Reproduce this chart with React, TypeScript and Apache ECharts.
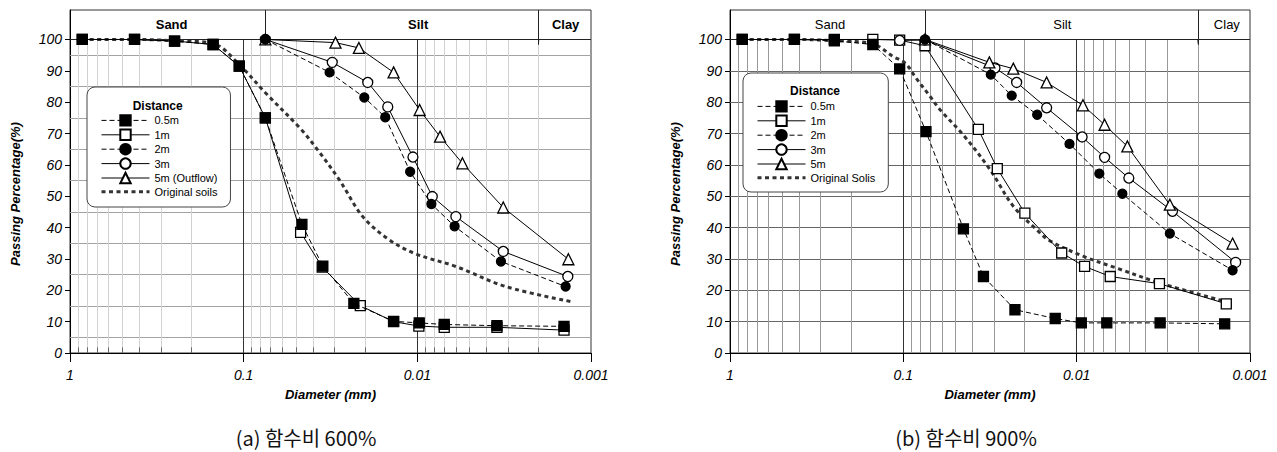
import React, { useEffect, useRef } from 'react';
import * as echarts from 'echarts';

type Pt = [number, number];

// ---------- DATA ----------
const namesA = ['0.5m', '1m', '2m', '3m', '5m (Outflow)', 'Original soils'];
const namesB = ['0.5m', '1m', '2m', '3m', '5m', 'Original Solis'];

// (a) water content 600%
const a05: Pt[] = [[0.85, 100], [0.425, 100], [0.25, 99.5], [0.15, 98.4], [0.106, 91.5], [0.075, 75], [0.0462, 41], [0.035, 27.7], [0.0232, 15.8], [0.0137, 10.1], [0.00975, 9.6], [0.007, 9.1], [0.00348, 8.7], [0.00143, 8.5]];
const a1: Pt[] = [[0.85, 100], [0.425, 100], [0.25, 99.5], [0.15, 98.4], [0.106, 91.5], [0.075, 75], [0.047, 38.5], [0.0353, 27.4], [0.0213, 15.1], [0.0137, 10.0], [0.0098, 8.6], [0.007, 8.2], [0.00348, 8.2], [0.00143, 7.3]];
const a2: Pt[] = [[0.075, 100], [0.032, 89.5], [0.0202, 81.5], [0.0153, 75.2], [0.011, 57.8], [0.0083, 47.5], [0.0061, 40.4], [0.0033, 29.2], [0.0014, 21.2]];
const a3: Pt[] = [[0.075, 100], [0.0309, 92.7], [0.0193, 86.3], [0.0148, 78.5], [0.0106, 62.5], [0.0082, 49.9], [0.006, 43.5], [0.0032, 32.4], [0.00136, 24.4]];
const a5: Pt[] = [[0.075, 100], [0.0296, 99.0], [0.0217, 97.3], [0.0137, 89.5], [0.0097, 77.5], [0.0074, 69], [0.0055, 60.5], [0.0032, 46.4], [0.00135, 29.9]];
const aOrig: Pt[] = [[0.85, 100], [0.425, 100], [0.25, 99.6], [0.15, 98.7], [0.106, 92], [0.075, 83], [0.047, 71.5], [0.0374, 64.7], [0.0281, 55.2], [0.0206, 43.5], [0.0145, 36.1], [0.0102, 31.6], [0.006, 27.6], [0.0031, 21.2], [0.0013, 16.4]];

// (b) water content 900%
const b05: Pt[] = [[0.85, 100], [0.425, 100], [0.25, 99.6], [0.15, 98.4], [0.105, 90.6], [0.074, 70.6], [0.045, 39.6], [0.0345, 24.4], [0.0227, 13.8], [0.0133, 11], [0.0094, 9.6], [0.0067, 9.6], [0.0033, 9.6], [0.0014, 9.3]];
const b1: Pt[] = [[0.85, 100], [0.425, 100], [0.25, 100], [0.15, 100], [0.105, 99.8], [0.075, 98], [0.0369, 71.3], [0.0287, 58.8], [0.0199, 44.6], [0.0122, 31.9], [0.009, 27.6], [0.0064, 24.4], [0.00333, 22.1], [0.00137, 15.7]];
const b2: Pt[] = [[0.075, 100], [0.0313, 88.8], [0.0237, 82.1], [0.0169, 76], [0.011, 66.7], [0.0074, 57.2], [0.00545, 50.8], [0.0029, 38.1], [0.00126, 26.4]];
const b3: Pt[] = [[0.105, 99.7], [0.075, 99.8], [0.0296, 90.9], [0.0222, 86.3], [0.0149, 78.2], [0.0093, 68.9], [0.0069, 62.4], [0.005, 55.8], [0.0028, 45.2], [0.00121, 28.9]];
const b5: Pt[] = [[0.075, 100], [0.0319, 92.7], [0.0232, 90.7], [0.0149, 86.3], [0.0092, 79], [0.0069, 72.8], [0.0051, 65.9], [0.0029, 47.3], [0.00126, 34.9]];
const bOrig: Pt[] = [[0.85, 100], [0.425, 100], [0.25, 99.6], [0.15, 98.6], [0.114, 94.5], [0.0977, 92.5], [0.084, 87.5], [0.0702, 81.9], [0.0614, 77.6], [0.045, 69.5], [0.0316, 58.5], [0.0232, 46.8], [0.017, 39.3], [0.0143, 35.8], [0.0092, 30.9], [0.0059, 27.1], [0.0033, 22.3], [0.0014, 16.5]];

const yTicks = [0, 10, 20, 30, 40, 50, 60, 70, 80, 90, 100];
const hGridA = [5, 15, 25, 35, 45, 55, 65, 75, 85, 95];
const hGridB = [10, 20, 30, 40, 50, 60, 70, 80, 90];
const majorD = [0.1, 0.01];
const minorD = [0.9, 0.8, 0.7, 0.6, 0.5, 0.4, 0.3, 0.2, 0.09, 0.08, 0.07, 0.06, 0.05, 0.04, 0.03, 0.02, 0.009, 0.008, 0.007, 0.006, 0.005, 0.004, 0.003, 0.002];
const headerLabels = ['Sand', 'Silt', 'Clay'];
const headerPosA = [0.26, 0.0099, 0.0014];
const headerPosB = [0.265, 0.0121, 0.00136];
const sandSilt = 0.075;
const siltClay = 0.002;
const captions = ['(a) 함수비 600%', '(b) 함수비 900%'];

// ---------- STYLE ----------
const FONT = '"Liberation Sans", Arial, Helvetica, sans-serif';
const YMAX = 109.4;
const XMIN = 0.001;
const XMAX = 1;

const markerStyles = [
  { symbol: 'rect', fill: '#000', type: [5, 3] as any, size: 10, z: 8 },
  { symbol: 'rect', fill: '#fff', type: 'solid' as any, size: 10, z: 4 },
  { symbol: 'circle', fill: '#000', type: [5, 3] as any, size: 9, z: 7 },
  { symbol: 'circle', fill: '#fff', type: 'solid' as any, size: 10, z: 5 },
  { symbol: 'triangle', fill: '#fff', type: 'solid' as any, size: 11, z: 6 },
];

function panel(i: number) {
  const isA = i === 0;
  const names = isA ? namesA : namesB;
  const datasets = isA ? [a05, a1, a2, a3, a5, aOrig] : [b05, b1, b2, b3, b5, bOrig];
  const hGrid = isA ? hGridA : hGridB;
  const hColor = isA ? '#a3a3a3' : '#666';
  const minorColor = isA ? '#d2d2d2' : '#999';
  const headerPos = isA ? headerPosA : headerPosB;

  const grid = {
    left: isA ? 70 : 730,
    right: isA ? 686 : 27,
    top: 10,
    bottom: 99,
    show: true,
    borderColor: '#333',
    borderWidth: 1,
    backgroundColor: 'transparent',
  };
  const xAxis = {
    gridIndex: i,
    type: 'log',
    logBase: 10,
    min: XMIN,
    max: XMAX,
    inverse: true,
    name: 'Diameter (mm)',
    nameLocation: 'middle',
    nameGap: 35,
    nameTextStyle: { fontFamily: FONT, fontSize: 13, fontWeight: 'bold', fontStyle: 'italic', color: '#000' },
    axisLine: { show: true, lineStyle: { color: '#000', width: 1 } },
    axisTick: { show: true, length: 9, lineStyle: { color: '#000' } },
    axisLabel: {
      fontFamily: FONT, fontSize: 14, fontStyle: 'italic', color: '#000', margin: 15,
      formatter: (v: number) => String(Number(v.toPrecision(3))),
    },
    splitLine: { show: false },
    minorTick: { show: false },
  };
  const yAxis = {
    gridIndex: i,
    type: 'value',
    min: 0,
    max: YMAX,
    interval: 10,
    axisLine: { show: true, lineStyle: { color: '#000', width: 1 } },
    axisTick: { show: true, length: 5, customValues: yTicks, lineStyle: { color: '#000' } },
    axisLabel: {
      customValues: yTicks,
      fontFamily: FONT, fontSize: 14, fontStyle: 'italic', color: '#000', margin: 8,
      formatter: (v: number) => (v <= 100 ? String(v) : ''),
    },
    splitLine: { show: false },
  };

  const ml: any[] = [];
  hGrid.forEach((v) => ml.push([{ coord: [XMAX, v], lineStyle: { color: hColor, width: 1, type: 'solid' } }, { coord: [XMIN, v] }]));
  minorD.forEach((d) => ml.push([{ coord: [d, 0], lineStyle: { color: minorColor, width: 1, type: 'solid' } }, { coord: [d, 100] }]));
  if (isA) {
    minorD.forEach((d) => ml.push([{ coord: [d, 0], lineStyle: { color: '#666', width: 1, type: 'solid' } }, { coord: [d, 1.8] }]));
  }
  majorD.forEach((d) => ml.push([{ coord: [d, 0], lineStyle: { color: '#333', width: 1, type: 'solid' } }, { coord: [d, 100] }]));
  ml.push([{ coord: [XMAX, 100], lineStyle: { color: '#222', width: 1, type: 'solid' } }, { coord: [XMIN, 100] }]);
  ml.push([{ coord: [sandSilt, 100], lineStyle: { color: '#222', width: 1, type: 'solid' } }, { coord: [sandSilt, YMAX] }]);

  const series: any[] = [
    {
      type: 'line',
      xAxisIndex: i,
      yAxisIndex: i,
      data: [],
      silent: true,
      z: 1,
      markLine: {
        silent: true,
        z: 1,
        symbol: ['none', 'none'],
        label: { show: false },
        emphasis: { disabled: true },
        data: ml,
      },
      markPoint: {
        silent: true,
        z: 6,
        symbol: 'rect',
        symbolSize: 1,
        itemStyle: { color: 'rgba(0,0,0,0)' },
        label: {
          show: true, position: 'inside', formatter: '{b}',
          fontFamily: FONT, fontSize: 13, fontWeight: isA ? 'bold' : 'normal', color: '#000',
        },
        data: headerLabels.map((t, k) => ({ name: t, coord: [headerPos[k], 104.7] })),
      },
    },
    {
      type: 'line',
      xAxisIndex: i,
      yAxisIndex: i,
      data: [],
      silent: true,
      z: 1,
      markLine: {
        silent: true,
        z: 6,
        symbol: ['none', 'arrow'],
        symbolSize: [1, 6],
        label: { show: false },
        emphasis: { disabled: true },
        data: [[{ coord: [siltClay, YMAX], lineStyle: { color: '#222', width: 1, type: 'solid' } }, { coord: [siltClay, 98.3] }]],
      },
    },
  ];

  datasets.forEach((d, k) => {
    if (k < 5) {
      const s = markerStyles[k];
      series.push({
        name: names[k],
        type: 'line',
        xAxisIndex: i,
        yAxisIndex: i,
        data: d,
        z: s.z,
        symbol: s.symbol,
        symbolSize: s.size,
        showAllSymbol: true,
        lineStyle: { color: '#000', width: 1, type: s.type },
        itemStyle: { color: s.fill, borderColor: '#000', borderWidth: 1.3 },
        emphasis: { disabled: true },
      });
    } else {
      series.push({
        name: names[k],
        type: 'line',
        xAxisIndex: i,
        yAxisIndex: i,
        data: d,
        z: 2,
        symbol: 'none',
        smooth: 0.35,
        lineStyle: { color: '#333', width: 3, type: [4, 3.5] },
        itemStyle: { color: '#333' },
        emphasis: { disabled: true },
      });
    }
  });

  const legendData = names.map((n, k) =>
    k < 5
      ? { name: n }
      : {
          name: n,
          itemStyle: { color: 'rgba(0,0,0,0)', borderColor: 'rgba(0,0,0,0)', borderWidth: 0 },
          lineStyle: { width: 3, color: '#333', type: [4, 3.5] },
        },
  );

  const legend = {
    data: legendData,
    orient: 'vertical',
    left: isA ? 87 : 743,
    top: isA ? 87 : 73,
    itemWidth: 48,
    itemHeight: 13,
    itemGap: 2,
    padding: [27.2, 13, isA ? 9.8 : 8.8, 13],
    backgroundColor: '#fff',
    borderColor: '#444',
    borderWidth: 1,
    borderRadius: 8,
    selectedMode: false,
    z: 10,
    lineStyle: { width: 1 },
    textStyle: { fontFamily: FONT, fontSize: 11, color: '#000' },
  };

  return { grid, xAxis, yAxis, series, legend };
}

export default function App() {
  const ref = useRef<HTMLDivElement>(null);
  useEffect(() => {
    document.body.style.margin = '0';
    if (!ref.current) return;
    const chart = echarts.init(ref.current, undefined, { renderer: 'svg' });
    const p0 = panel(0);
    const p1 = panel(1);
    chart.setOption({
      animation: false,
      backgroundColor: '#fff',
      grid: [p0.grid, p1.grid],
      xAxis: [p0.xAxis, p1.xAxis],
      yAxis: [p0.yAxis, p1.yAxis],
      legend: [p0.legend, p1.legend],
      series: [...p0.series, ...p1.series],
      graphic: [
        { type: 'text', x: 15, y: 194, rotation: Math.PI / 2, z: 100, style: { text: 'Passing Percentage(%)', font: `italic bold 13px ${FONT}`, fill: '#000', textAlign: 'center', textVerticalAlign: 'middle' } },
        { type: 'text', x: 675, y: 194, rotation: Math.PI / 2, z: 100, style: { text: 'Passing Percentage(%)', font: `italic bold 13px ${FONT}`, fill: '#000', textAlign: 'center', textVerticalAlign: 'middle' } },
        { type: 'text', x: 157.7, y: 106, z: 100, style: { text: 'Distance', font: `bold 12px ${FONT}`, fill: '#000', textAlign: 'center', textVerticalAlign: 'middle' } },
        { type: 'text', x: 815, y: 90.7, z: 100, style: { text: 'Distance', font: `bold 12px ${FONT}`, fill: '#000', textAlign: 'center', textVerticalAlign: 'middle' } },
        { type: 'text', x: 306, y: 437, z: 100, style: { text: captions[0], font: `20px "Noto Sans CJK KR", sans-serif`, fill: '#111', textAlign: 'center', textVerticalAlign: 'middle' } },
        { type: 'text', x: 966, y: 437, z: 100, style: { text: captions[1], font: `20px "Noto Sans CJK KR", sans-serif`, fill: '#111', textAlign: 'center', textVerticalAlign: 'middle' } },
      ],
    });
    return () => chart.dispose();
  }, []);
  return <div ref={ref} style={{ position: 'absolute', left: 0, top: 0, width: 1277, height: 452 }} />;
}
